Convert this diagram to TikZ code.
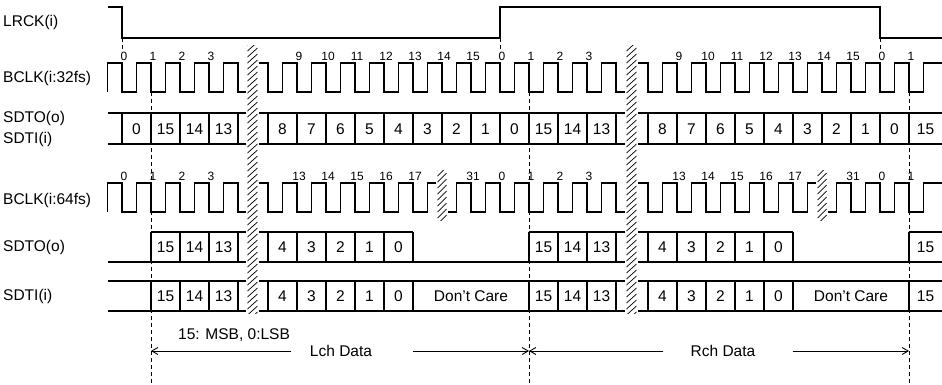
\documentclass[tikz,border=0pt]{standalone}
\usepackage{fontspec}
\setmainfont{Liberation Sans}
\usetikzlibrary{arrows.meta}
\newcommand\clkseg[5]{%
  \begin{scope}
  \clip (#1,0) rectangle (#2,384);
  \foreach \f in {#3} {\draw[wave] (\f-14.5,#5) -- (\f-14.5,#4) -- (\f,#4) -- (\f,#5) -- (\f+14.6,#5);}
  \end{scope}}
\newcommand\hatchband[4]{%
  \fill[white] (#1,#3) rectangle (#2,#4);
  \begin{scope}
  \clip (#1,#3) rectangle (#2,#4);
  \foreach \k in {0,...,50} {\draw[hatch] (#1+1.5,#3+6*\k) -- (#2-1.5,#3-9+6*\k);}
  \end{scope}}
\begin{document}
\begin{tikzpicture}[x=1pt,y=-1pt,
  wave/.style={line width=1.1pt, line join=miter},
  cell/.style={line width=1.1pt},
  lbl/.style={anchor=west, inner sep=0pt, font=\fontsize{15.5}{17}\selectfont},
  num/.style={anchor=south, inner sep=0pt, font=\fontsize{12}{13}\selectfont},
  dat/.style={inner sep=0pt, font=\fontsize{15.5}{17}\selectfont},
  guide/.style={line width=0.9pt, dash pattern=on 4pt off 3pt},
  arr/.style={line width=0.9pt, -{Straight Barb[length=6pt,width=7pt]}},
  hatch/.style={line width=0.7pt}
]
\useasboundingbox (0,0) rectangle (942,384);
\fill[white] (0,0) rectangle (942,384);

% ---------- labels ----------
\node[lbl] (lLRCK) at (3,22) {LRCK(i)};
\node[lbl] (lB32) at (3,78) {BCLK(i:32fs)};
\node[lbl] (lSDTOa) at (3,118) {SDTO(o)};
\node[lbl] (lSDTIa) at (3,139) {SDTI(i)};
\node[lbl] (lB64) at (3,200) {BCLK(i:64fs)};
\node[lbl] (lSDTOb) at (3,247) {SDTO(o)};
\node[lbl] (lSDTIb) at (3,296) {SDTI(i)};

% ---------- guide lines ----------
\foreach \x in {122,500,880} {\draw[guide] (\x,38) -- (\x,52);}
\foreach \x in {151,529,909} {\draw[guide] (\x,92) -- (\x,384);}

% ---------- LRCK ----------
\draw[wave] (108,7) -- (122,7) -- (122,38) -- (500,38) -- (500,7) -- (880,7) -- (880,38) -- (942,38);

% ---------- BCLK 32fs ----------
\clkseg{106}{252}{122,151,...,267}{63}{92}
\clkseg{252}{631}{268,297,...,645}{63}{92}
\clkseg{631}{944}{648,677,...,909}{63}{92}
\draw[wave] (923.5,92) -- (923.5,63) -- (942,63);
\foreach \x/\t in {122/0,151/1,180/2,209/3,297/9,326/10,355/11,384/12,413/13,442/14,471/15,500/0,529/1,558/2,587/3,677/9,706/10,735/11,764/12,793/13,822/14,851/15,880/0,909/1}
  {\node[num] (na\x) at (\x+2,61) {\t};}

% ---------- data 32fs ----------
\draw[cell] (108,113) -- (942,113);
\draw[cell] (108,144) -- (942,144);
\foreach \x in {122,151,...,238,268,297,...,616,648,677,...,909} {\draw[cell] (\x,113) -- (\x,144);}
\foreach \x/\t in {122/0,151/15,180/14,209/13,268/8,297/7,326/6,355/5,384/4,413/3,442/2,471/1,500/0,529/15,558/14,587/13,648/8,677/7,706/6,735/5,764/4,793/3,822/2,851/1,880/0}
  {\node[dat] (da\x) at (\x+14.5,129) {\t};}
\node[dat] (da909) at (925.5,129) {15};

% ---------- BCLK 64fs ----------
\clkseg{106}{252}{122,151,...,267}{183}{212}
\clkseg{252}{442}{268,297,...,442}{183}{212}
\clkseg{442}{631}{442,471,...,645}{183}{212}
\clkseg{631}{822}{648,677,...,822}{183}{212}
\clkseg{822}{944}{822,851,880,909}{183}{212}
\draw[wave] (923.5,212) -- (923.5,183) -- (942,183);
\foreach \x/\t in {122/0,151/1,180/2,209/3,297/13,326/14,355/15,384/16,413/17,471/31,500/0,529/1,558/2,587/3,677/13,706/14,735/15,764/16,793/17,851/31,880/0,909/1}
  {\node[num] (nb\x) at (\x+2,181) {\t};}

% ---------- SDTO 64fs ----------
\draw[cell] (151,232) -- (413,232);
\draw[cell] (529,232) -- (793,232);
\draw[cell] (909,232) -- (942,232);
\draw[cell] (108,262) -- (942,262);
\foreach \x in {151,180,209,238,268,297,...,413,529,558,587,616,648,677,...,793,909} {\draw[cell] (\x,232) -- (\x,262);}
\foreach \x/\t in {151/15,180/14,209/13,268/4,297/3,326/2,355/1,384/0,529/15,558/14,587/13,648/4,677/3,706/2,735/1,764/0}
  {\node[dat] (db\x) at (\x+14.5,247) {\t};}
\node[dat] (db909) at (925.5,247) {15};

% ---------- SDTI 64fs ----------
\draw[cell] (108,281) -- (942,281);
\draw[cell] (108,311) -- (942,311);
\foreach \x in {151,180,209,238,268,297,...,413,529,558,587,616,648,677,...,793,909} {\draw[cell] (\x,281) -- (\x,311);}
\foreach \x/\t in {151/15,180/14,209/13,268/4,297/3,326/2,355/1,384/0,529/15,558/14,587/13,648/4,677/3,706/2,735/1,764/0}
  {\node[dat] (dc\x) at (\x+14.5,296) {\t};}
\node[dat] (dc909) at (925.5,296) {15};
\node[dat] (dcL) at (471,296) {Don't Care};
\node[dat] (dcR) at (851,296) {Don't Care};

% ---------- breaks ----------
\hatchband{246}{259}{45}{313}
\hatchband{625}{638}{45}{313}
\hatchband{436}{448}{170}{220}
\hatchband{816}{828}{170}{220}

% ---------- bottom arrows ----------
\coordinate (aL) at (151,351);
\coordinate (aM) at (529,351);
\coordinate (aR) at (909,351);
\coordinate (l1) at (291,351);
\coordinate (l2) at (413,351);
\coordinate (r1) at (663,351);
\coordinate (r2) at (793,351);
\node[dat] (msb) at (234,335) {15: MSB, 0:LSB};
\node[dat] (lch) at (341,351) {Lch Data};
\node[dat] (rch) at (723,351) {Rch Data};
\draw[arr] (l1) -- (aL);
\draw[arr] (l2) -- (aM);
\draw[arr] (r1) -- (aM);
\draw[arr] (r2) -- (aR);
\end{tikzpicture}
\end{document}
